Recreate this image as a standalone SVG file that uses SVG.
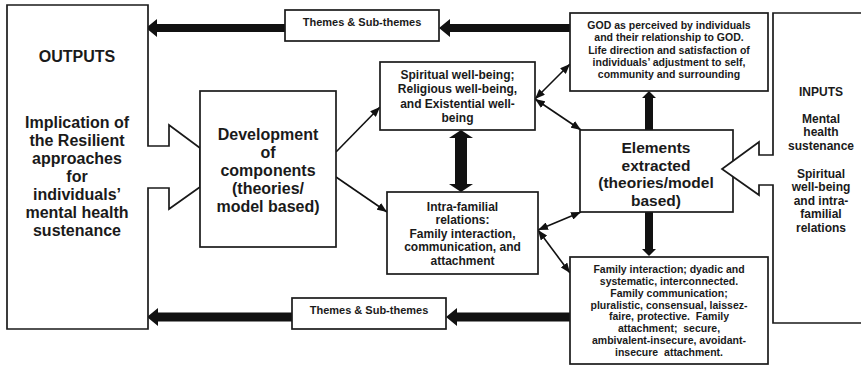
<svg xmlns="http://www.w3.org/2000/svg" width="861" height="366" viewBox="0 0 861 366">
<style>
.box{fill:#fff;stroke:#1a1a1a;stroke-width:1.7}
.t{font-family:"Liberation Sans",Arial,sans-serif;font-weight:bold;fill:#1a1a1a;text-anchor:middle}
.big{font-size:16px}
.el{font-size:15.5px}
.mid{font-size:12px}
.sm{font-size:10.5px}
.th{font-size:11px}
.thin{stroke:#111;stroke-width:1.6;fill:none}
.thick{fill:#111}
</style>
<defs>
<marker id="ah" viewBox="0 0 10 8" refX="10" refY="4" markerWidth="10" markerHeight="8" markerUnits="userSpaceOnUse" orient="auto-start-reverse">
<path d="M0,0 L10,4 L0,8 Z" fill="#111"/>
</marker>
</defs>
<rect width="861" height="366" fill="#fff"/>

<g id="connectors">
<path class="thick" d="M146,28 L157,19 L157,24 L285,24 L285,32 L157,32 L157,37 Z"/>
<path class="thick" d="M439,28 L450,19 L450,24 L570,24 L570,32 L450,32 L450,37 Z"/>
<path class="thick" d="M147,317 L158,308 L158,312.5 L292,312.5 L292,321.5 L158,321.5 L158,326 Z"/>
<path class="thick" d="M446,317 L457,308 L457,312.5 L570,312.5 L570,321.5 L457,321.5 L457,326 Z"/>
<path class="thick" d="M649,91 L656,98 L653,98 L653,130 L645,130 L645,98 L642,98 Z"/>
<path class="thick" d="M649,256 L656,249 L653,249 L653,212 L645,212 L645,249 L642,249 Z"/>
<path class="thick" d="M461,130 L473,138 L467,138 L467,184 L473,184 L461,192 L449,184 L455,184 L455,138 L449,138 Z"/>
<line class="thin" x1="336" y1="152" x2="380" y2="107" marker-end="url(#ah)"/>
<line class="thin" x1="336" y1="177" x2="387" y2="212" marker-end="url(#ah)"/>
<line class="thin" x1="535" y1="99" x2="570" y2="64" marker-start="url(#ah)" marker-end="url(#ah)"/>
<line class="thin" x1="535" y1="99" x2="581" y2="130" marker-start="url(#ah)" marker-end="url(#ah)"/>
<line class="thin" x1="538" y1="230" x2="581" y2="212" marker-start="url(#ah)" marker-end="url(#ah)"/>
<line class="thin" x1="538" y1="230" x2="570" y2="273" marker-start="url(#ah)" marker-end="url(#ah)"/>
</g>

<g id="outputs">
<polygon class="box" points="7,5 148,5 148,146 169,146 169,125 200,148 200,187 169,209 169,188 148,188 148,329 7,329"/>
<text class="t big" x="77" y="62">OUTPUTS</text>
<text class="t big"><tspan x="77" y="128">Implication of</tspan><tspan x="77" y="146">the Resilient</tspan><tspan x="77" y="164">approaches</tspan><tspan x="77" y="182">for</tspan><tspan x="77" y="200">individuals’</tspan><tspan x="77" y="218">mental health</tspan><tspan x="77" y="236">sustenance</tspan></text>
</g>

<g id="development">
<rect class="box" x="200" y="91" width="136" height="156"/>
<text class="t big"><tspan x="268" y="139.5">Development</tspan><tspan x="268" y="157.5">of</tspan><tspan x="268" y="175.5">components</tspan><tspan x="268" y="193.5">(theories/</tspan><tspan x="268" y="211.5">model based)</tspan></text>
</g>

<g id="themes-top">
<rect class="box" x="285" y="10" width="154" height="31"/>
<text class="t th" x="362" y="26">Themes &amp; Sub-themes</text>
</g>

<g id="themes-bottom">
<rect class="box" x="292" y="298" width="154" height="31"/>
<text class="t th" x="369" y="314">Themes &amp; Sub-themes</text>
</g>

<g id="spiritual">
<rect class="box" x="380" y="62" width="155" height="68"/>
<text class="t mid"><tspan x="457.5" y="78.5">Spiritual well-being;</tspan><tspan x="457.5" y="93">Religious well-being,</tspan><tspan x="457.5" y="107.5">and Existential well-</tspan><tspan x="457.5" y="122">being</tspan></text>
</g>

<g id="intrafamilial">
<rect class="box" x="387" y="192" width="151" height="82"/>
<text class="t mid"><tspan x="462.5" y="210.5">Intra-familial</tspan><tspan x="462.5" y="224">relations:</tspan><tspan x="462.5" y="237.5">Family interaction,</tspan><tspan x="462.5" y="251">communication, and</tspan><tspan x="462.5" y="264.5">attachment</tspan></text>
</g>

<g id="god">
<rect class="box" x="570" y="13" width="198" height="78"/>
<text class="t sm"><tspan x="669" y="29">GOD as perceived by individuals</tspan><tspan x="669" y="41.25">and their relationship to GOD.</tspan><tspan x="669" y="53.5">Life direction and satisfaction of</tspan><tspan x="669" y="65.75">individuals’ adjustment to self,</tspan><tspan x="669" y="78">community and surrounding</tspan></text>
</g>

<g id="elements">
<rect class="box" x="580" y="130" width="153" height="82"/>
<text class="t el"><tspan x="656" y="153">Elements</tspan><tspan x="656" y="170.5">extracted</tspan><tspan x="656" y="188">(theories/model</tspan><tspan x="656" y="205.5">based)</tspan></text>
</g>

<g id="family">
<rect class="box" x="570" y="257" width="198" height="107"/>
<text class="t sm" xml:space="preserve"><tspan x="669" y="273">Family interaction; dyadic and</tspan><tspan x="669" y="284.9">systematic, interconnected.</tspan><tspan x="669" y="296.7">Family communication;</tspan><tspan x="669" y="308.6">pluralistic, consensual, laissez-</tspan><tspan x="669" y="320.4">faire, protective.  Family</tspan><tspan x="669" y="332.3">attachment;  secure,</tspan><tspan x="669" y="344.1">ambivalent-insecure, avoidant-</tspan><tspan x="669" y="356">insecure  attachment.</tspan></text>
</g>

<g id="inputs">
<path class="box" d="M864,13 H773 V155 H759 V142 L722,169 L759,195 V185 H773 V323 H864"/>
<text class="t mid" x="821" y="95.5">INPUTS</text>
<text class="t mid"><tspan x="821" y="122.5">Mental</tspan><tspan x="821" y="136">health</tspan><tspan x="821" y="149.5">sustenance</tspan></text>
<text class="t mid"><tspan x="821" y="177.5">Spiritual</tspan><tspan x="821" y="191">well-being</tspan><tspan x="821" y="204.5">and intra-</tspan><tspan x="821" y="218">familial</tspan><tspan x="821" y="231.5">relations</tspan></text>
</g>
</svg>
